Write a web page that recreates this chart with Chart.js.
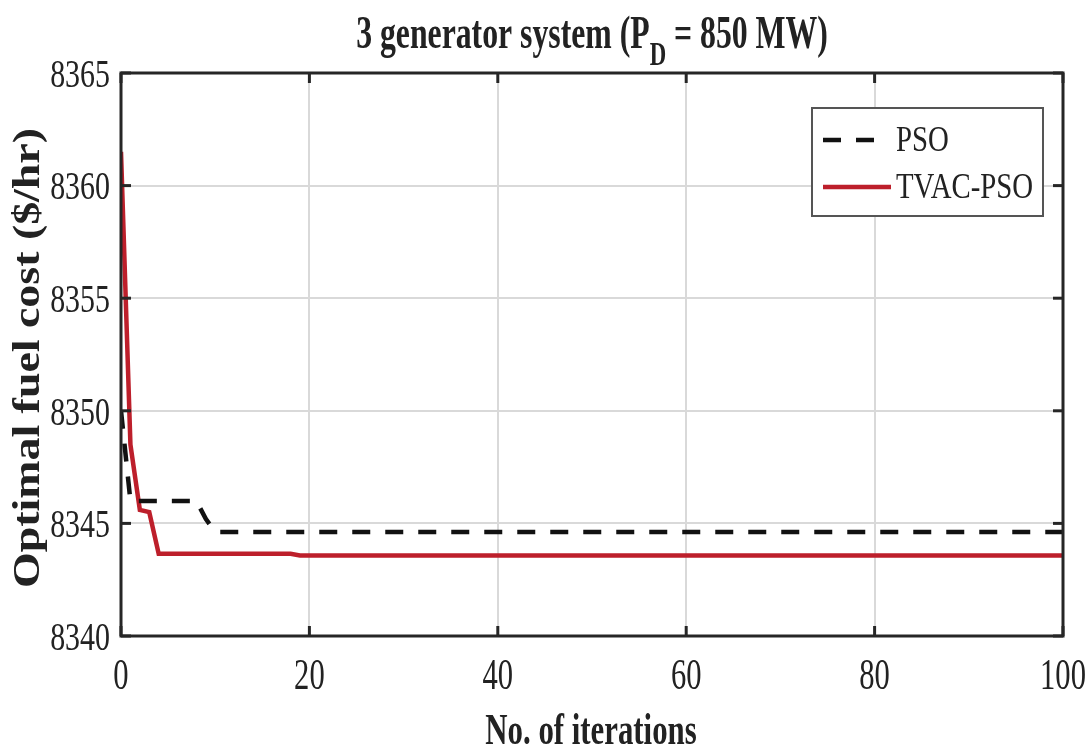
<!DOCTYPE html>
<html>
<head>
<meta charset="utf-8">
<script src="https://cdn.jsdelivr.net/npm/chart.js@4.4.1/dist/chart.umd.min.js"></script>
<style>
  html, body { margin: 0; padding: 0; background: #fff; }
  canvas { display: block; }
</style>
</head>
<body>
<canvas id="convChart" width="1091" height="750"></canvas>
<script>
// values (iteration, fuel cost in $/hr)
const psoIter = [0, 1, 8, 9, 10, 100];
const psoCost = [8350.0, 8346.0, 8346.0, 8345.2, 8344.62, 8344.62];
const tvacIter = [0, 1, 2, 3, 4, 18, 19, 100];
const tvacCost = [8361.5, 8348.5, 8345.6, 8345.5, 8343.65, 8343.65, 8343.58, 8343.58];

const seriesNames = ['PSO', 'TVAC-PSO'];
const iterTicks = [0, 20, 40, 60, 80, 100];
const costTicks = [8340, 8345, 8350, 8355, 8360, 8365];

const titleText = ['3 generator system (P', 'D', ' = 850 MW)'];
const xTitle = 'No. of iterations';
const yTitle = 'Optimal fuel cost ($/hr)';

const SERIF = '"Liberation Serif", "Times New Roman", serif';

function toPoints(xs, ys) {
    return xs.map((v, i) => ({ x: v, y: ys[i] }));
}

// draw text squeezed horizontally, like the narrow figure text
function squeezed(ctx, text, x, y, font, sx, align) {
    ctx.save();
    ctx.font = font;
    ctx.translate(x, y);
    ctx.scale(sx, 1);
    ctx.textAlign = align || 'left';
    ctx.fillText(text, 0, 0);
    ctx.restore();
}

function line(ctx, x1, y1, x2, y2) {
    ctx.beginPath();
    ctx.moveTo(x1, y1);
    ctx.lineTo(x2, y2);
    ctx.stroke();
}

const matlabFrame = {
    id: 'matlabFrame',
    afterDraw(chart) {
        const { ctx, chartArea: a, scales: { x, y } } = chart;
        ctx.save();

        // box + inward ticks
        ctx.strokeStyle = '#262626';
        ctx.lineWidth = 3;
        ctx.strokeRect(a.left, a.top, a.right - a.left, a.bottom - a.top);
        x.ticks.forEach(t => {
            const px = x.getPixelForValue(t.value);
            line(ctx, px, a.bottom, px, a.bottom - 10);
            line(ctx, px, a.top, px, a.top + 10);
        });
        y.ticks.forEach(t => {
            const py = y.getPixelForValue(t.value);
            line(ctx, a.left, py, a.left + 10, py);
            line(ctx, a.right, py, a.right - 10, py);
        });

        // tick labels
        ctx.fillStyle = '#222';
        ctx.textBaseline = 'middle';
        y.ticks.forEach(t => {
            squeezed(ctx, String(t.value), a.left - 11, y.getPixelForValue(t.value) + 3, '41px ' + SERIF, 0.73, 'right');
        });
        x.ticks.forEach(t => {
            squeezed(ctx, String(t.value), x.getPixelForValue(t.value), a.bottom + 41, '45px ' + SERIF, 0.68, 'center');
        });

        // title with subscript
        ctx.textBaseline = 'alphabetic';
        const tFont = 'bold 46px ' + SERIF;
        const sFont = 'bold 33px ' + SERIF;
        const tsx = 0.69;
        ctx.font = tFont;
        const w1 = ctx.measureText(titleText[0]).width * tsx;
        const w3 = ctx.measureText(titleText[2]).width * tsx;
        ctx.font = sFont;
        const w2 = ctx.measureText(titleText[1]).width * tsx;
        const cx = (a.left + a.right) / 2;
        let tx = cx - (w1 + w2 + w3) / 2;
        squeezed(ctx, titleText[0], tx, 48, tFont, tsx);
        squeezed(ctx, titleText[1], tx + w1, 65, sFont, tsx);
        squeezed(ctx, titleText[2], tx + w1 + w2, 48, tFont, tsx);

        // axis titles
        squeezed(ctx, xTitle, cx - 1, 744, 'bold 44px ' + SERIF, 0.7, 'center');
        ctx.save();
        ctx.translate(39, 358);
        ctx.rotate(-Math.PI / 2);
        ctx.font = 'bold 37px ' + SERIF;
        ctx.textAlign = 'center';
        ctx.scale(1.24, 1);
        ctx.fillText(yTitle, 0, 0);
        ctx.restore();

        // legend
        const lx = 812, ly = 108, lw = 231, lh = 108;
        ctx.fillStyle = '#fff';
        ctx.fillRect(lx, ly, lw, lh);
        ctx.strokeStyle = '#555';
        ctx.lineWidth = 2;
        ctx.strokeRect(lx, ly, lw, lh);
        const rows = [140, 187];
        chart.data.datasets.forEach((ds, i) => {
            ctx.strokeStyle = ds.borderColor;
            ctx.lineWidth = ds.borderWidth;
            ctx.setLineDash(ds.borderDash || []);
            line(ctx, lx + 11, rows[i], lx + (ds.borderDash ? 65 : 79), rows[i]);
            ctx.setLineDash([]);
            ctx.fillStyle = '#222';
            ctx.textBaseline = 'middle';
            squeezed(ctx, ds.label, lx + 84, rows[i] + 2, '36px ' + SERIF, 0.8);
        });

        ctx.restore();
    }
};

new Chart(document.getElementById('convChart'), {
    type: 'line',
    data: {
        datasets: [
            {
                label: seriesNames[0],
                data: toPoints(psoIter, psoCost),
                borderColor: '#111',
                borderWidth: 4.5,
                borderDash: [18, 15],
                pointRadius: 0,
                tension: 0
            },
            {
                label: seriesNames[1],
                data: toPoints(tvacIter, tvacCost),
                borderColor: '#bd1f2b',
                borderWidth: 4.5,
                pointRadius: 0,
                tension: 0
            }
        ]
    },
    options: {
        responsive: false,
        animation: false,
        layout: { padding: { left: 121, right: 28, top: 73, bottom: 114 } },
        plugins: {
            legend: { display: false },
            title: { display: false },
            tooltip: { enabled: false }
        },
        scales: {
            x: {
                type: 'linear',
                min: iterTicks[0],
                max: iterTicks[iterTicks.length - 1],
                afterBuildTicks: s => { s.ticks = iterTicks.map(v => ({ value: v })); },
                ticks: { display: false },
                grid: { color: '#d9d9d9', lineWidth: 2, drawTicks: false },
                border: { display: false }
            },
            y: {
                type: 'linear',
                min: costTicks[0],
                max: costTicks[costTicks.length - 1],
                afterBuildTicks: s => { s.ticks = costTicks.map(v => ({ value: v })); },
                ticks: { display: false },
                grid: { color: '#d9d9d9', lineWidth: 2, drawTicks: false },
                border: { display: false }
            }
        }
    },
    plugins: [matlabFrame]
});
</script>
</body>
</html>
